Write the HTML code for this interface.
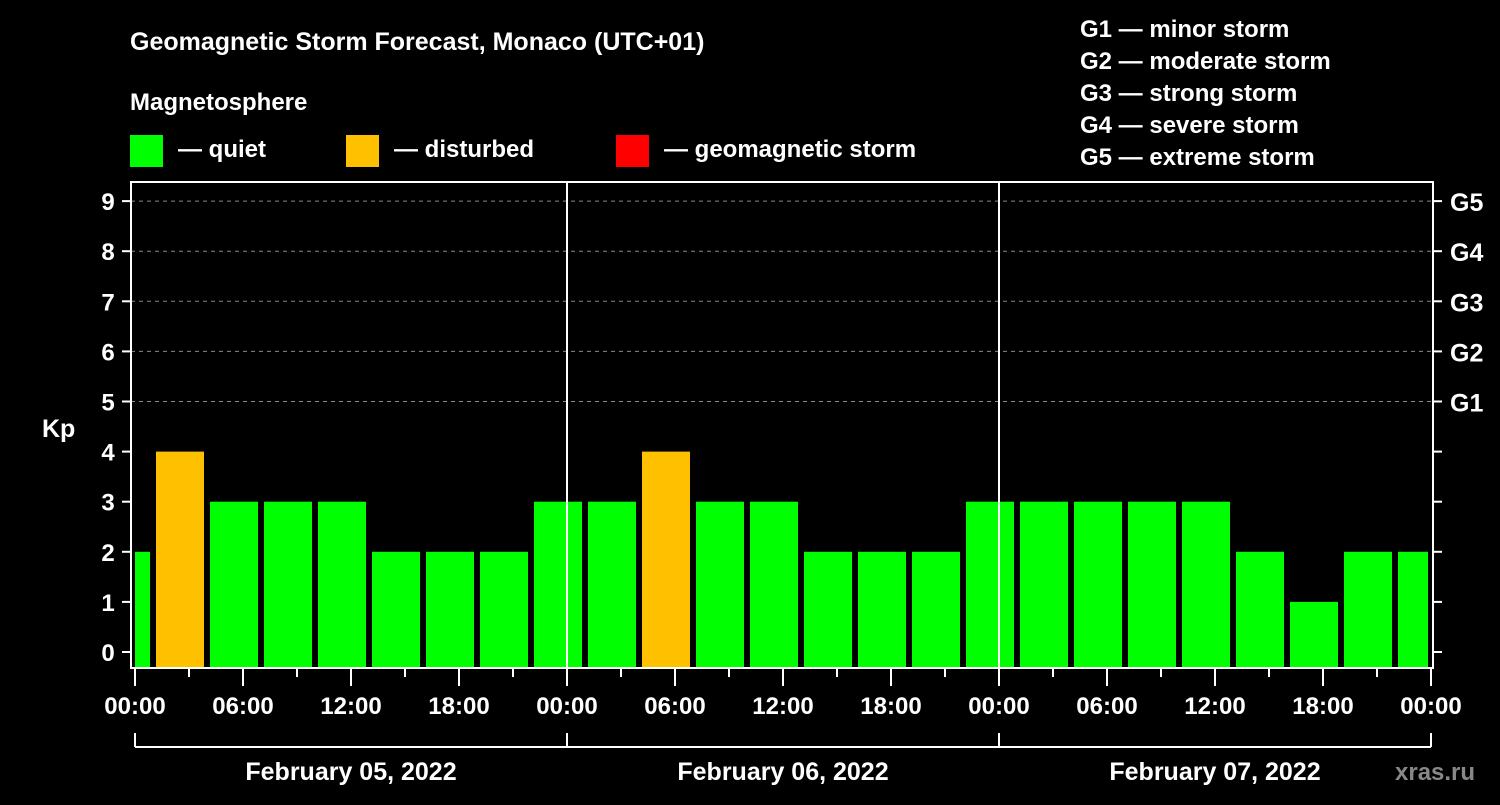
<!DOCTYPE html>
<html><head><meta charset="utf-8"><style>
body{margin:0;background:#000;width:1500px;height:800px;overflow:hidden}
svg text{font-family:"Liberation Sans",sans-serif;font-weight:bold;fill:#fff}
</style></head><body>
<svg id="c" width="1500" height="800">
<text x="130" y="50" font-size="25">Geomagnetic Storm Forecast, Monaco (UTC+01)</text>
<text x="130" y="110" font-size="24">Magnetosphere</text>
<rect x="130" y="135" width="33" height="32" fill="#00ff00"/>
<text x="178" y="157" font-size="24">— quiet</text>
<rect x="346" y="135" width="33" height="32" fill="#ffc000"/>
<text x="394" y="157" font-size="24">— disturbed</text>
<rect x="616" y="135" width="33" height="32" fill="#ff0000"/>
<text x="664" y="157" font-size="24">— geomagnetic storm</text>
<g font-size="24">
<text x="1080" y="37">G1 — minor storm</text>
<text x="1080" y="69">G2 — moderate storm</text>
<text x="1080" y="101">G3 — strong storm</text>
<text x="1080" y="133">G4 — severe storm</text>
<text x="1080" y="165">G5 — extreme storm</text>
</g>
<text x="42" y="437" font-size="25">Kp</text>
<text x="1395" y="780" font-size="24" fill="#888" style="fill:#888">xras.ru</text>
<g id="g"></g>
</svg>
<script>
const startHours=[-2,1,4,7,10,13,16,19,22,25,28,31,34,37,40,43,46,49,52,55,58,61,64,67,70];
const kpValues=[2,4,3,3,3,2,2,2,3,3,4,3,3,2,2,2,3,3,3,3,3,2,1,2,2];
const yTicks=[0,1,2,3,4,5,6,7,8,9];
const gLabels=["G1","G2","G3","G4","G5"];
const xTickLabels=["00:00","06:00","12:00","18:00","00:00","06:00","12:00","18:00","00:00","06:00","12:00","18:00","00:00"];
const dateLabels=["February 05, 2022","February 06, 2022","February 07, 2022"];
const NS="http://www.w3.org/2000/svg",g=document.getElementById('g');
const X=h=>135+h*18, Y=v=>652-v*50.1;
function mk(t,a,txt){const e=document.createElementNS(NS,t);for(const k in a)e.setAttribute(k,a[k]);if(txt!=null)e.textContent=txt;g.appendChild(e);return e;}
// grid
for(let v=5;v<=9;v++){const e=mk('line',{x1:131,x2:1433,y1:Y(v),y2:Y(v),stroke:'#888','stroke-dasharray':'4,4'});

}
// bars
startHours.forEach((s,i)=>{const v=kpValues[i];let a=Math.max(0,s),b=Math.min(72,s+3);
let x1=X(a)+(s<0?0:3),x2=X(b)-(s+3>72?3:3);
const e=mk('rect',{x:x1,y:Y(v),width:x2-x1,height:667-Y(v),fill:v>=5?'#ff0000':v>=4?'#ffc000':'#00ff00'});

});
// day separators
[24,48].forEach(h=>{const e=mk('line',{x1:X(h),x2:X(h),y1:182,y2:668,stroke:'#fff','stroke-width':2});

});
// frame
const f=mk('rect',{x:131,y:182,width:1302,height:486,fill:'none',stroke:'#fff','stroke-width':2});


// y ticks
yTicks.forEach(v=>{mk('line',{x1:122,x2:131,y1:Y(v),y2:Y(v),stroke:'#fff','stroke-width':2});
mk('line',{x1:1433,x2:1442,y1:Y(v),y2:Y(v),stroke:'#fff','stroke-width':2});
const t=mk('text',{x:108,y:Y(v)+9,'font-size':24,'text-anchor':'middle'},v);

});
gLabels.forEach((l,i)=>{const t=mk('text',{x:1450,y:Y(i+5)+10,'font-size':25},l);

});
// x ticks
for(let h=0;h<=72;h+=3){mk('line',{x1:X(h),x2:X(h),y1:668,y2:h%6?677:686,stroke:'#fff','stroke-width':2});}
xTickLabels.forEach((l,i)=>{const t=mk('text',{x:X(i*6),y:714,'font-size':24,'text-anchor':'middle'},l);

});
// date bracket
mk('line',{x1:X(0),x2:X(72),y1:747,y2:747,stroke:'#fff','stroke-width':2});
[0,24,48,72].forEach(h=>mk('line',{x1:X(h),x2:X(h),y1:733,y2:747,stroke:'#fff','stroke-width':2}));
dateLabels.forEach((l,i)=>{const t=mk('text',{x:X(i*24+12),y:780,'font-size':25,'text-anchor':'middle'},l);

});
</script>
</body></html>
